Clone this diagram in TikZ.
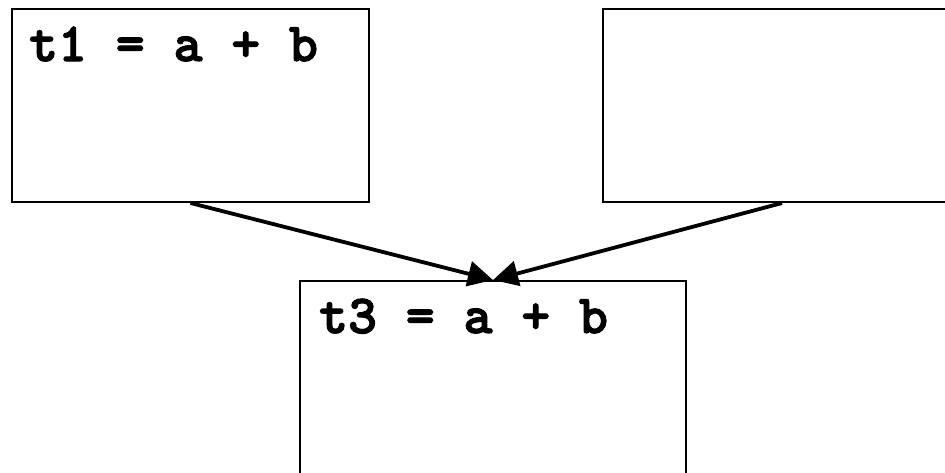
\documentclass[tikz,border=0pt]{standalone}
\usepackage{fontspec}
\newfontfamily\codefont[FakeBold=2.2]{lmmonolt10-bold.otf}
\usetikzlibrary{arrows.meta}
\begin{document}
\begin{tikzpicture}[x=1pt,y=-1pt,
  blockbox/.style={draw=black,line width=2pt,inner sep=0pt,minimum width=#1},
  codetext/.style={anchor=base west,inner sep=0pt,font=\codefont\fontsize{55}{55}\selectfont},
  flow/.style={line width=3.8pt,-{Triangle[length=25pt,width=25pt]}}]
\useasboundingbox (0,0) rectangle (945,472);
\clip (0,0) rectangle (945,472);
\node[blockbox=357pt,minimum height=193pt] (b1) at (190.5,105.5) {};
\node[blockbox=358pt,minimum height=193pt] (b2) at (782,105.5) {};
\node[blockbox=386pt,minimum height=193pt] (b3) at (493,377.5) {};
\node[codetext] (l1) at (29,61) {t1 = a + b};
\node[codetext] (l3) at (319,333) {t3 = a + b};
\draw[flow] (b1.south) -- (b3.north);
\draw[flow] (b2.south) -- (b3.north);
\end{tikzpicture}
\end{document}
